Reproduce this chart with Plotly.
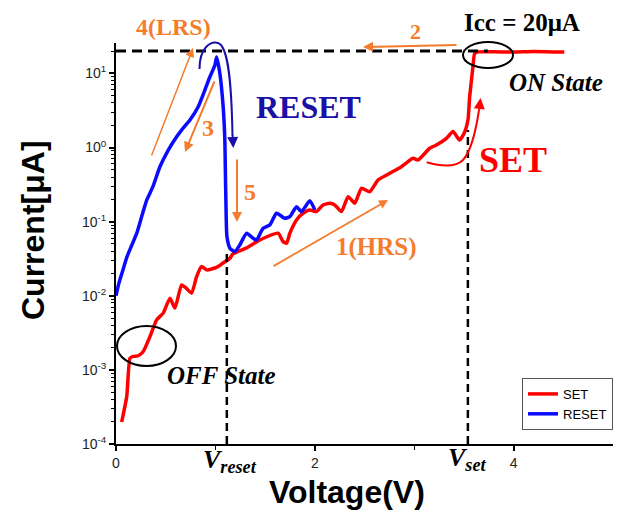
import plotly.graph_objects as go

# ---------------- data ----------------
set_v = [0.057, 0.108, 0.141, 0.174, 0.224, 0.274, 0.342, 0.409, 0.475, 0.543, 0.593, 0.66, 0.704,
         0.761, 0.811, 0.861, 0.912, 1.012, 1.065, 1.146, 1.176, 1.314, 1.447, 1.631, 1.681, 1.716,
         1.749, 1.816, 1.882, 1.95, 2.017, 2.083, 2.151, 2.201, 2.268, 2.335, 2.402, 2.469, 2.553,
         2.636, 2.754, 2.871, 2.988, 3.038, 3.156, 3.223, 3.324, 3.39, 3.457, 3.508, 3.541, 3.558,
         3.591, 3.608, 3.641, 3.8, 4.0, 4.2, 4.4, 4.51]
set_i = [1.98e-4, 4.38e-4, 1.44e-3, 1.52e-3, 1.55e-3, 1.77e-3, 2.82e-3, 4.73e-3, 5.83e-3, 9.29e-3,
         6.81e-3, 0.01403, 0.01276, 0.01084, 0.01816, 0.0248, 0.02234, 0.0241, 0.0269, 0.0321,
         0.0367, 0.0443, 0.0566, 0.0698, 0.0537, 0.0512, 0.0698, 0.1054, 0.1298, 0.1439, 0.1365,
         0.168, 0.177, 0.168, 0.1365, 0.2173, 0.177, 0.2818, 0.2535, 0.3648, 0.449, 0.5508, 0.7145,
         0.679, 0.976, 1.08, 1.33, 1.64, 1.26, 1.62, 2.35, 4.84, 12.3, 18.6, 19.5, 19.6, 19.4,
         19.7, 19.5, 19.5]

reset_v = [0, 0.03, 0.07, 0.11, 0.16, 0.21, 0.26, 0.31, 0.37, 0.442, 0.526, 0.61, 0.66, 0.744,
           0.827, 0.894, 0.945, 0.995, 1.012, 1.045, 1.078, 1.095, 1.1, 1.106, 1.116, 1.146,
           1.196, 1.246, 1.314, 1.38, 1.414, 1.48, 1.548, 1.615, 1.698, 1.749, 1.816, 1.866,
           1.95, 2.0]
reset_i = [0.01, 0.0149, 0.0223, 0.0334, 0.0485, 0.0705, 0.119, 0.196, 0.294, 0.551, 0.925, 1.40,
           1.72, 2.35, 3.55, 5.96, 9.0, 12.9, 16.6, 10, 3.55, 1.26, 0.498, 0.179, 0.0628, 0.0439,
           0.0394, 0.0485, 0.0698, 0.0597, 0.0566, 0.0815, 0.0904, 0.1298, 0.111, 0.1168, 0.159,
           0.1365, 0.192, 0.144]

icc = 20.0            # compliance current (uA)
icc_v_end = 3.74
v_reset = 1.115
v_reset_top = 0.042
v_set = 3.54
v_set_top = 1.72

x_ticks = [0, 2, 4]
x_minor = [1, 3]
y_ticks = [1e-4, 1e-3, 1e-2, 1e-1, 1e0, 1e1]
y_ticklabels = ["10<sup>-4</sup>", "10<sup>-3</sup>", "10<sup>-2</sup>",
                "10<sup>-1</sup>", "10<sup>0</sup>", "10<sup>1</sup>"]
y_minor = [m * 10.0 ** e for e in range(-4, 2) for m in range(2, 10)]

# ---------------- layout helpers ----------------
W, H = 622, 513
L, R, T, B = 116, 9, 43, 69
PW, PH = W - L - R, H - T - B


def P(px, py):
    return (px - L) / PW, (H - B - py) / PH


ORANGE = "#F47C2C"
DBLUE = "#1A10A8"
SERIF = "Liberation Serif"
SANS = "Liberation Sans"

fig = go.Figure()
fig.add_trace(go.Scatter(x=set_v, y=set_i, mode="lines", name="SET",
                         line=dict(color="#FF0000", width=3.5, shape="spline", smoothing=0.5)))
fig.add_trace(go.Scatter(x=reset_v, y=reset_i, mode="lines", name="RESET",
                         line=dict(color="#0A0AFF", width=3.5, shape="spline", smoothing=0.5)))
fig.add_trace(go.Scatter(x=[0, icc_v_end], y=[icc, icc], mode="lines", showlegend=False,
                         line=dict(color="black", width=3, dash="10px,6px")))
fig.add_trace(go.Scatter(x=[v_reset, v_reset], y=[1e-4, v_reset_top], mode="lines", showlegend=False,
                         line=dict(color="black", width=2.5, dash="8px,5px")))
fig.add_trace(go.Scatter(x=[v_set, v_set], y=[1e-4, v_set_top], mode="lines", showlegend=False,
                         line=dict(color="black", width=2.5, dash="8px,5px")))

annotations = []


def text(s, px, py, size, color, italic=False, bold=True, font=SERIF, **kw):
    x, y = P(px, py)
    if italic:
        s = "<i>" + s + "</i>"
    if bold:
        s = "<b>" + s + "</b>"
    annotations.append(dict(text=s, x=x, y=y, xref="paper", yref="paper", showarrow=False,
                            xanchor="center", yanchor="middle",
                            font=dict(family=font, size=size, color=color), **kw))


def arrow(hx, hy, tx, ty, color, width, head=2, size=1.0):
    x, y = P(hx, hy)
    annotations.append(dict(text="", x=x, y=y, xref="paper", yref="paper", showarrow=True,
                            ax=tx - hx, ay=ty - hy, arrowhead=head, arrowsize=size,
                            arrowwidth=width, arrowcolor=color, standoff=0, startstandoff=0))


text("4(LRS)", 173, 27, 24, ORANGE)
text("3", 208, 128, 24, ORANGE)
text("RESET", 308, 107, 32, DBLUE)
text("5", 250, 192, 24, ORANGE)
text("2", 415, 31, 22, ORANGE)
text("Icc = 20μA", 522, 22, 25, "black")
text("ON State", 556, 82, 25, "black", italic=True)
text("SET", 513, 160, 36, "#FF0000")
text("1(HRS)", 376, 247, 25, ORANGE)
text("OFF State", 221, 375, 25, "black", italic=True)
text("V<sub>reset</sub>", 230, 461, 26, "black", italic=True)
text("V<sub>set</sub>", 467, 459, 26, "black", italic=True)
text("Voltage(V)", 347, 492, 32, "black", font=SANS)
text("Current[μA]", 33, 230, 32, "black", font=SANS, textangle=-90)

arrow(193, 48, 151, 157, ORANGE, 1.5, head=2, size=1.2)
arrow(185, 152, 215, 80, ORANGE, 2, head=2, size=1.0)
arrow(237, 222, 237, 158, ORANGE, 2, head=2, size=1.0)
arrow(363, 47, 458, 45, ORANGE, 2, head=2, size=1.0)
arrow(388, 200, 272, 267, ORANGE, 1.8, head=2, size=1.0)
arrow(233.3, 148, 232.5, 134, DBLUE, 2, head=2, size=1.1)
arrow(480.5, 98, 479, 112, "#FF0000", 2, head=2, size=1.1)


def path(pts):
    s = ""
    for cmd, coords in pts:
        s += cmd
        for (px, py) in coords:
            x, y = P(px, py)
            s += f" {x:.5f},{y:.5f}"
        s += " "
    return s.strip()


shapes = []
# blue RESET arc
shapes.append(dict(type="path", xref="paper", yref="paper",
                   path=path([("M", [(199.5, 69)]),
                              ("C", [(199.5, 47), (211, 41), (218, 43)]),
                              ("C", [(228, 46), (231.5, 80), (232.5, 136)])]),
                   line=dict(color=DBLUE, width=2)))
# red SET curved arrow
shapes.append(dict(type="path", xref="paper", yref="paper",
                   path=path([("M", [(426.7, 162.3)]),
                              ("C", [(440, 166), (455, 168), (463, 160)]),
                              ("C", [(471, 151), (476, 130), (479, 110)])]),
                   line=dict(color="#FF0000", width=2)))
# ellipses
for (x0, y0, x1, y1) in [(463, 42, 513, 68), (117, 326, 176, 366)]:
    a, b = P(x0, y1)
    c, d = P(x1, y0)
    shapes.append(dict(type="circle", xref="paper", yref="paper", x0=a, y0=b, x1=c, y1=d,
                       line=dict(color="black", width=2)))

fig.update_layout(
    width=W, height=H, margin=dict(l=L, r=R, t=T, b=B, pad=0),
    paper_bgcolor="white", plot_bgcolor="white",
    annotations=annotations, shapes=shapes,
    showlegend=True,
    legend=dict(x=1, xanchor="right", y=0.035, yanchor="bottom", bgcolor="white",
                bordercolor="#555", borderwidth=1, font=dict(family=SANS, size=13, color="black"),
                tracegroupgap=0, itemwidth=30),
    xaxis=dict(range=[0, 5], showgrid=False, zeroline=False, showline=True, linecolor="black",
               linewidth=2, ticks="outside", ticklen=5, tickwidth=1.5, tickcolor="black",
               tickmode="array", tickvals=x_ticks, ticktext=[str(v) for v in x_ticks],
               tickfont=dict(family=SANS, size=14, color="#222"),
               minor=dict(tickmode="array", tickvals=x_minor, ticks="outside", ticklen=4,
                          tickwidth=1.2, tickcolor="black", showgrid=False)),
    yaxis=dict(type="log", range=[-4, 1.41], showgrid=False, zeroline=False, showline=True,
               linecolor="black", linewidth=2, ticks="outside", ticklen=5, tickwidth=1.5,
               tickcolor="black", tickmode="array", tickvals=y_ticks, ticktext=y_ticklabels,
               tickfont=dict(family=SANS, size=14, color="#222"),
               minor=dict(tickmode="array", tickvals=y_minor, ticks="outside", ticklen=3,
                          tickwidth=1, tickcolor="black", showgrid=False)),
)

fig.write_html("out.html", config={"displayModeBar": False},
               post_script="document.body.style.margin='0px';document.body.style.padding='0px';")
